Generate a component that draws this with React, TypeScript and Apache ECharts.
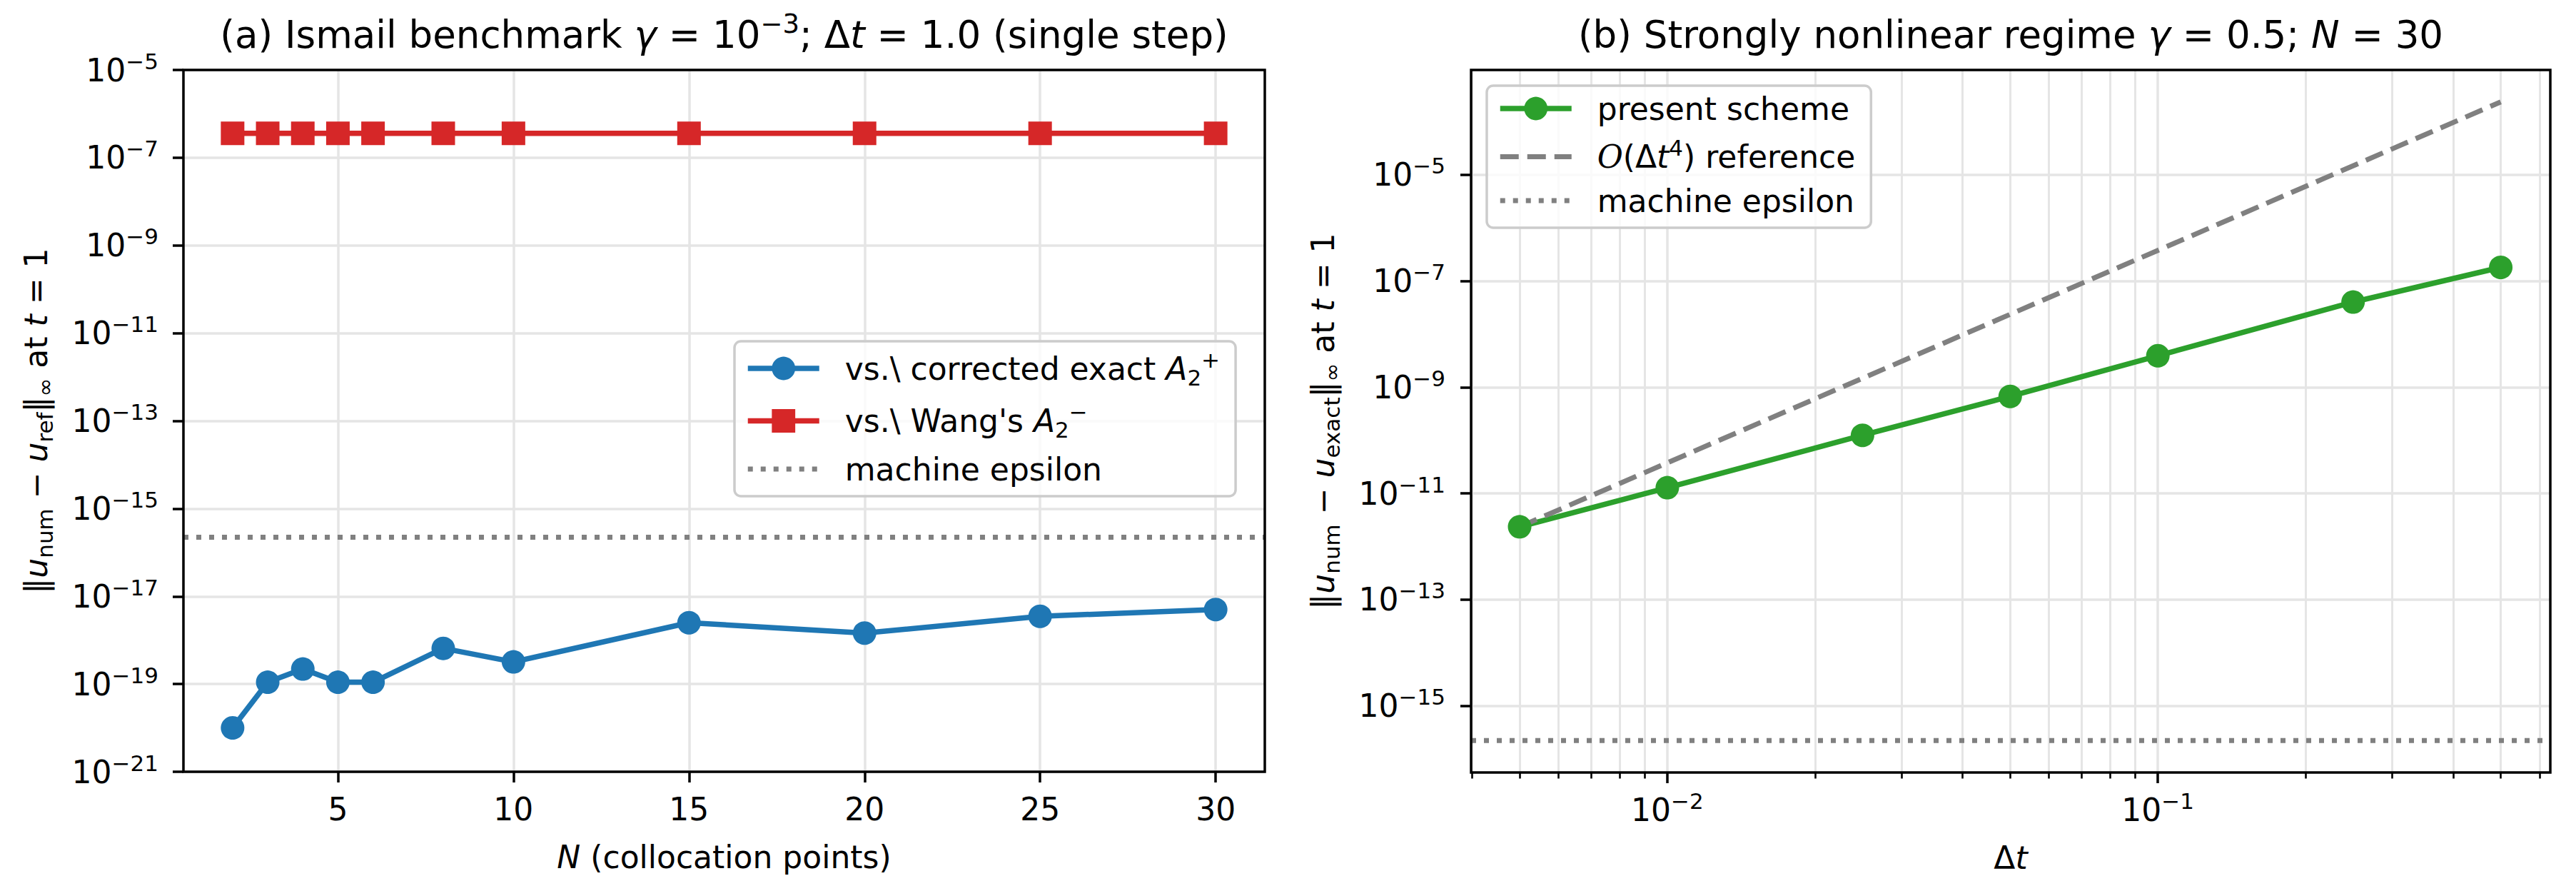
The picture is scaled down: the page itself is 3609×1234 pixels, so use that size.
import React, { useEffect, useRef } from "react";
import * as echarts from "echarts";

// ---------- data ----------
const N_POINTS = [2, 3, 4, 5, 6, 8, 10, 15, 20, 25, 30];
const ERR_CORRECTED_EXACT = [1.0e-20, 1.1e-19, 2.2e-19, 1.1e-19, 1.1e-19, 6.5e-19, 3.2e-19, 2.5e-18, 1.45e-18, 3.5e-18, 5.0e-18];
const ERR_WANG = [3.6e-7, 3.6e-7, 3.6e-7, 3.6e-7, 3.6e-7, 3.6e-7, 3.6e-7, 3.6e-7, 3.6e-7, 3.6e-7, 3.6e-7];

const DT_VALUES = [0.005, 0.01, 0.025, 0.05, 0.1, 0.25, 0.5];
const ERR_PRESENT = [2.35e-12, 1.28e-11, 1.24e-10, 6.7e-10, 3.9e-9, 4.0e-8, 1.8e-7];
const ERR_ORDER4_REF = [2.35e-12, 3.76e-11, 1.47e-9, 2.35e-8, 3.76e-7, 1.47e-5, 2.35e-4];

const MACHINE_EPS = 2.22e-16;

// ticks
const A_X_TICKS = [5, 10, 15, 20, 25, 30];
const A_Y_TICKS = [1e-21, 1e-19, 1e-17, 1e-15, 1e-13, 1e-11, 1e-9, 1e-7, 1e-5];
const B_X_TICKS = [0.01, 0.1];
const B_X_MINOR = [0.004, 0.005, 0.006, 0.007, 0.008, 0.009, 0.02, 0.03, 0.04, 0.05, 0.06, 0.07, 0.08, 0.09, 0.2, 0.3, 0.4, 0.5, 0.6];
const B_Y_TICKS = [1e-15, 1e-13, 1e-11, 1e-9, 1e-7, 1e-5];

// axis limits
const A_X_RANGE = [0.6, 31.4];
const A_Y_RANGE = [1e-21, 1e-5];
const B_X_RANGE = [Math.pow(10, -2.4), Math.pow(10, -0.2)];
const B_Y_RANGE = [Math.pow(10, -16.255), Math.pow(10, -3.028)];

// ---------- styles ----------
const FONT = "DejaVu Sans";
const BLUE = "#1f77b4";
const RED = "#d62728";
const GREEN = "#2ca02c";
const GRAY = "#808080";
const GRID_COLOR = "#e5e5e5";

const GRID_A = { left: 257, top: 98, width: 1515, height: 983 };
const GRID_B = { left: 2061, top: 98, width: 1512, height: 984 };

function richSet(base: number, small: number, L: number) {
  return {
    t: { fontFamily: FONT, fontSize: base, lineHeight: L, color: "#000" },
    i: { fontFamily: FONT, fontSize: base, lineHeight: L, fontStyle: "italic", color: "#000" },
    b: { fontFamily: FONT, fontSize: base, lineHeight: L, color: "#000" },
    s: { fontFamily: FONT, fontSize: small, lineHeight: small, verticalAlign: "top", color: "#000" },
    sup: { fontFamily: FONT, fontSize: small, lineHeight: small, verticalAlign: "top", color: "#000" },
    sub: { fontFamily: FONT, fontSize: small, lineHeight: small, verticalAlign: "bottom", color: "#000" },
    cal: { fontFamily: "DejaVu Serif", fontSize: base, lineHeight: L, fontStyle: "italic", color: "#000" },
  };
}

const TICK_RICH = richSet(44, 31, 56);
const LABEL_RICH = richSet(44, 31, 56);
const TITLE_RICH = richSet(53, 37, 66);

const powLabel = (v: number) => {
  const e = Math.round(Math.log10(v));
  return `{b|10}{s|${e < 0 ? "\u2212" : ""}${Math.abs(e)}}`;
};

const LEGEND_LABELS: Record<string, string> = {
  corrected: "{t|vs.\\ corrected exact }{i|A}{sub|2}{sup|+}",
  wang: "{t|vs.\\ Wang's }{i|A}{sub|2}{sup|\u2212}",
  epsA: "{t|machine epsilon}",
  present: "{t|present scheme}",
  ref4: "{cal|O}{t|(Δ}{i|t}{sup|4}{t|) reference}",
  epsB: "{t|machine epsilon}",
};

const tickStyle = (values: number[]) => ({
  show: true,
  customValues: values,
  length: 15,
  lineStyle: { color: "#000", width: 3.5 },
});

const splitStyle = { show: true, lineStyle: { color: GRID_COLOR, width: 3.5 } };

function legendCommon() {
  return {
    orient: "vertical",
    itemWidth: 100,
    itemHeight: 41,
    itemGap: 17.5,
    padding: [10, 22, 16, 15],
    backgroundColor: "rgba(255,255,255,0.8)",
    borderColor: "#cccccc",
    borderWidth: 3.5,
    borderRadius: 9,
    selectedMode: false,
    formatter: (name: string) => LEGEND_LABELS[name],
    textStyle: { fontFamily: FONT, fontSize: 44, color: "#000", padding: [0, 0, 0, 31], rich: LABEL_RICH },
    lineStyle: { width: 7.5 },
  };
}

export default function App() {
  const ref = useRef<HTMLDivElement>(null);

  useEffect(() => {
    if (!ref.current) return;
    const chart = echarts.init(ref.current, undefined, { renderer: "svg", width: 3609, height: 1234 });

    const option: any = {
      animation: false,
      backgroundColor: "#ffffff",
      textStyle: { fontFamily: FONT },
      title: [
        {
          text: "{t|(a) Ismail benchmark }{i|γ}{t| = 10}{sup|\u22123}{t|; Δ}{i|t}{t| = 1.0 (single step)}",
          left: GRID_A.left + GRID_A.width / 2,
          top: 15,
          padding: 0,
          textAlign: "center",
          textVerticalAlign: "top",
          textStyle: { fontFamily: FONT, fontSize: 53, fontWeight: "normal", color: "#000", rich: TITLE_RICH },
        },
        {
          text: "{t|(b) Strongly nonlinear regime }{i|γ}{t| = 0.5; }{i|N}{t| = 30}",
          left: GRID_B.left + GRID_B.width / 2,
          top: 15,
          padding: 0,
          textAlign: "center",
          textVerticalAlign: "top",
          textStyle: { fontFamily: FONT, fontSize: 53, fontWeight: "normal", color: "#000", rich: TITLE_RICH },
        },
      ],
      grid: [
        { ...GRID_A, containLabel: false },
        { ...GRID_B, containLabel: false },
      ],
      xAxis: [
        {
          gridIndex: 0,
          type: "value",
          min: A_X_RANGE[0],
          max: A_X_RANGE[1],
          axisLine: { show: false },
          axisTick: tickStyle(A_X_TICKS),
          axisLabel: {
            customValues: A_X_TICKS,
            margin: 24,
            formatter: (v: number) => `{b|${v}}`,
            rich: TICK_RICH,
          },
          splitLine: splitStyle,
          name: "{i|N}{t| (collocation points)}",
          nameLocation: "middle",
          nameGap: 91,
          nameTextStyle: { fontFamily: FONT, fontSize: 44, color: "#000", rich: LABEL_RICH },
        },
        {
          gridIndex: 1,
          type: "log",
          logBase: 10,
          min: B_X_RANGE[0],
          max: B_X_RANGE[1],
          position: "bottom",
          axisLine: { show: false },
          axisTick: tickStyle(B_X_TICKS),
          axisLabel: { customValues: B_X_TICKS, margin: 24, formatter: powLabel, rich: TICK_RICH },
          splitLine: splitStyle,
          name: "{t|Δ}{i|t}",
          nameLocation: "middle",
          nameGap: 91,
          nameTextStyle: { fontFamily: FONT, fontSize: 44, color: "#000", rich: LABEL_RICH },
        },
        {
          gridIndex: 1,
          type: "log",
          logBase: 10,
          min: B_X_RANGE[0],
          max: B_X_RANGE[1],
          position: "bottom",
          offset: 0,
          axisLine: { show: false },
          axisTick: { show: true, customValues: B_X_MINOR, length: 8.5, lineStyle: { color: "#000", width: 2.6 } },
          axisLabel: { show: false },
          splitLine: { show: true, lineStyle: { color: GRID_COLOR, width: 3 } },
        },
      ],
      yAxis: [
        {
          gridIndex: 0,
          type: "log",
          logBase: 10,
          min: A_Y_RANGE[0],
          max: A_Y_RANGE[1],
          axisLine: { show: false },
          axisTick: tickStyle(A_Y_TICKS),
          axisLabel: { customValues: A_Y_TICKS, margin: 35, formatter: powLabel, rich: TICK_RICH },
          splitLine: splitStyle,
          name: "{t|‖}{i|u}{sub|num}{t| − }{i|u}{sub|ref}{t|‖}{sub|∞}{t| at }{i|t}{t| = 1}",
          nameLocation: "middle",
          nameRotate: 90,
          nameGap: 179,
          nameTextStyle: { fontFamily: FONT, fontSize: 44, color: "#000", rich: LABEL_RICH },
        },
        {
          gridIndex: 1,
          type: "log",
          logBase: 10,
          min: B_Y_RANGE[0],
          max: B_Y_RANGE[1],
          axisLine: { show: false },
          axisTick: tickStyle(B_Y_TICKS),
          axisLabel: { customValues: B_Y_TICKS, margin: 36, formatter: powLabel, rich: TICK_RICH },
          splitLine: splitStyle,
          name: "{t|‖}{i|u}{sub|num}{t| − }{i|u}{sub|exact}{t|‖}{sub|∞}{t| at }{i|t}{t| = 1}",
          nameLocation: "middle",
          nameRotate: 90,
          nameGap: 180,
          nameTextStyle: { fontFamily: FONT, fontSize: 44, color: "#000", rich: LABEL_RICH },
        },
      ],
      legend: [
        {
          ...legendCommon(),
          left: 1029,
          top: 478,
          data: [{ name: "corrected" }, { name: "wang" }, { name: "epsA", itemStyle: { opacity: 0 }, lineStyle: { type: [7, 11], width: 7 } }],
        },
        {
          ...legendCommon(),
          left: 2083,
          top: 120,
          data: [
            { name: "present" },
            { name: "ref4", itemStyle: { opacity: 0 }, lineStyle: { type: [26, 12], width: 7 } },
            { name: "epsB", itemStyle: { opacity: 0 }, lineStyle: { type: [7, 11], width: 7 } },
          ],
        },
      ],
      series: [
        {
          name: "corrected",
          type: "line",
          xAxisIndex: 0,
          yAxisIndex: 0,
          data: N_POINTS.map((n, i) => [n, ERR_CORRECTED_EXACT[i]]),
          symbol: "circle",
          symbolSize: 33,
          showAllSymbol: true,
          lineStyle: { color: BLUE, width: 7.5 },
          itemStyle: { color: BLUE },
          silent: true,
        },
        {
          name: "wang",
          type: "line",
          xAxisIndex: 0,
          yAxisIndex: 0,
          data: N_POINTS.map((n, i) => [n, ERR_WANG[i]]),
          symbol: "rect",
          symbolSize: 33,
          showAllSymbol: true,
          lineStyle: { color: RED, width: 7.5 },
          itemStyle: { color: RED },
          silent: true,
        },
        {
          name: "epsA",
          type: "line",
          xAxisIndex: 0,
          yAxisIndex: 0,
          data: [
            [A_X_RANGE[0], MACHINE_EPS],
            [A_X_RANGE[1], MACHINE_EPS],
          ],
          symbol: "none",
          lineStyle: { color: GRAY, width: 7, type: [7, 11] },
          itemStyle: { color: GRAY },
          silent: true,
        },
        {
          name: "present",
          type: "line",
          xAxisIndex: 1,
          yAxisIndex: 1,
          data: DT_VALUES.map((d, i) => [d, ERR_PRESENT[i]]),
          symbol: "circle",
          symbolSize: 33,
          showAllSymbol: true,
          lineStyle: { color: GREEN, width: 7.5 },
          itemStyle: { color: GREEN },
          silent: true,
        },
        {
          name: "ref4",
          type: "line",
          xAxisIndex: 1,
          yAxisIndex: 1,
          data: DT_VALUES.map((d, i) => [d, ERR_ORDER4_REF[i]]),
          symbol: "none",
          lineStyle: { color: GRAY, width: 7, type: [26, 12] },
          itemStyle: { color: GRAY },
          silent: true,
        },
        {
          name: "epsB",
          type: "line",
          xAxisIndex: 1,
          yAxisIndex: 1,
          data: [
            [B_X_RANGE[0], MACHINE_EPS],
            [B_X_RANGE[1], MACHINE_EPS],
          ],
          symbol: "none",
          lineStyle: { color: GRAY, width: 7, type: [7, 11] },
          itemStyle: { color: GRAY },
          silent: true,
        },
      ],
      graphic: [
        {
          type: "rect",
          silent: true,
          z: 100,
          shape: { x: GRID_A.left, y: GRID_A.top, width: GRID_A.width, height: GRID_A.height },
          style: { fill: "none", stroke: "#000", lineWidth: 3.5 },
        },
        {
          type: "rect",
          silent: true,
          z: 100,
          shape: { x: GRID_B.left, y: GRID_B.top, width: GRID_B.width, height: GRID_B.height },
          style: { fill: "none", stroke: "#000", lineWidth: 3.5 },
        },
      ],
    };

    chart.setOption(option);
    return () => chart.dispose();
  }, []);

  return (
    <div
      ref={ref}
      style={{ position: "absolute", left: 0, top: 0, width: 3609, height: 1234, background: "#ffffff" }}
    />
  );
}
